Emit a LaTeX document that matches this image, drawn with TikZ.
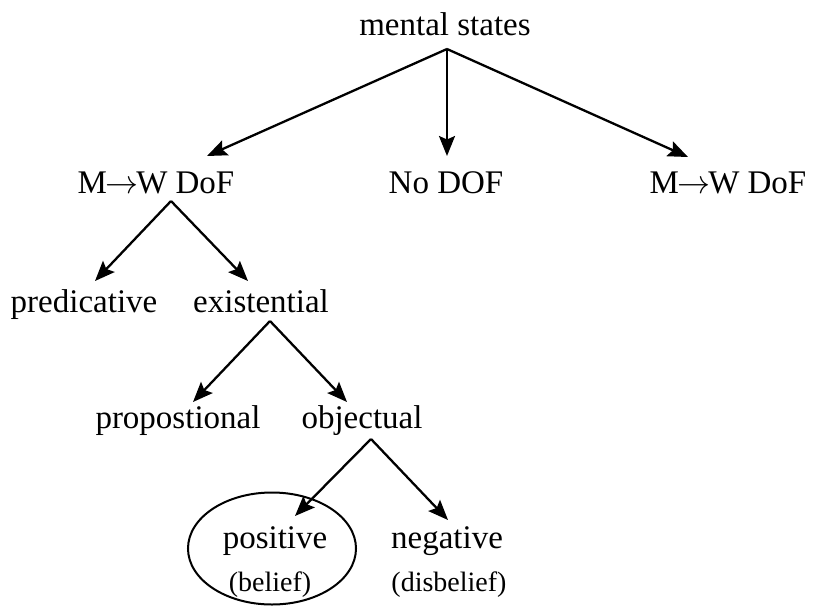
\RequirePackage{fix-cm}
\documentclass[tikz,border=0pt]{standalone}
\usepackage{fontspec}
\setmainfont{Liberation Serif}
\usetikzlibrary{arrows.meta}
\newcommand{\mwarrow}{\ensuremath{\mkern-1mu\rightarrow\mkern-1mu}}
\begin{document}
\begin{tikzpicture}[x=1pt,y=-1pt,
  lbl/.style={anchor=base,inner sep=0pt,font=\fontsize{33}{38}\selectfont},
  sublbl/.style={anchor=base,inner sep=0pt,font=\fontsize{28}{32}\selectfont},
  arr/.style={line width=2.3pt,-{Stealth[length=20pt,width=16pt,inset=3.5pt]}}]
\useasboundingbox (0,0) rectangle (820,606);
% labels
\node[lbl] (ms) at (445,35) {mental states};
\node[lbl] (mwl) at (156,193) {M\mwarrow W DoF};
\node[lbl] (nodof) at (446,193) {No DOF};
\node[lbl] (mwr) at (728,193) {M\mwarrow W DoF};
\node[lbl] (pred) at (84,312) {predicative};
\node[lbl] (exist) at (261,312) {existential};
\node[lbl] (prop) at (178,428) {propostional};
\node[lbl] (obj) at (362,428) {objectual};
\node[lbl] (pos) at (275,548) {positive};
\node[sublbl] (bel) at (270,591) {(belief)};
\node[lbl] (neg) at (447,548) {negative};
\node[sublbl] (disbel) at (449,591) {(disbelief)};
\draw[line width=2pt] (272,548.5) ellipse [x radius=84, y radius=56];
% apex and tip coordinates
\coordinate (ms-b) at (447,49);
\coordinate (mwl-t) at (207,156);
\coordinate (nodof-t) at (447,156);
\coordinate (mwr-t) at (688,157);
\coordinate (mwl-b) at (171,201);
\coordinate (pred-t) at (95,281);
\coordinate (exist-t) at (248,281);
\coordinate (exist-b) at (270,321);
\coordinate (prop-t) at (193,402);
\coordinate (obj-t) at (347,402);
\coordinate (obj-b) at (371,439);
\coordinate (pos-t) at (295,516);
\coordinate (neg-t) at (448,520);
% connectors
\draw[arr] (ms-b) -- (mwl-t);
\draw[arr] (ms-b) -- (nodof-t);
\draw[arr] (ms-b) -- (mwr-t);
\draw[arr] (mwl-b) -- (pred-t);
\draw[arr] (mwl-b) -- (exist-t);
\draw[arr] (exist-b) -- (prop-t);
\draw[arr] (exist-b) -- (obj-t);
\draw[arr] (obj-b) -- (pos-t);
\draw[arr] (obj-b) -- (neg-t);
\end{tikzpicture}
\end{document}
